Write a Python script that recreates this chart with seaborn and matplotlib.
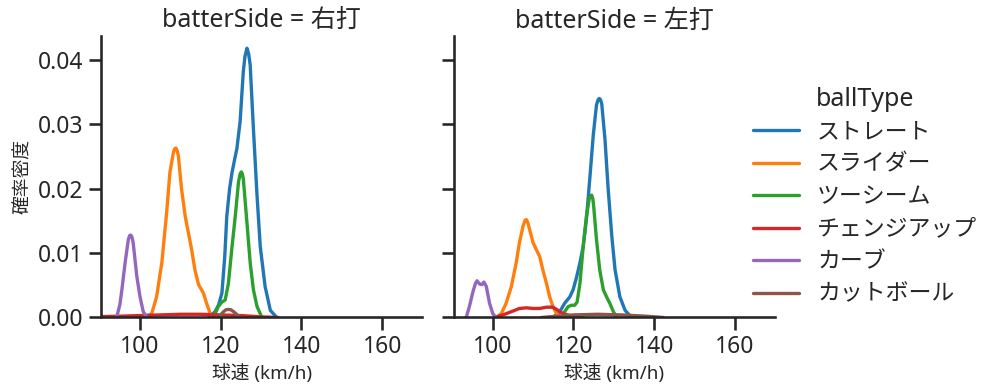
import pandas as pd
import numpy as np
import matplotlib.pyplot as plt
import seaborn as sns

# Curvas de densidade (球速 km/h, densidade)
ball_types = ['ストレート', 'スライダー', 'ツーシーム', 'チェンジアップ', 'カーブ', 'カットボール']
sides = ['右打', '左打']

# 右打
r_straight_x = [117.0, 118.6, 119.5, 120.3, 121.0, 121.5, 122.2, 122.8, 123.5, 124.0, 124.8, 125.6, 126.0, 126.5, 126.9, 127.3, 128.1, 129.0, 129.8, 131.0, 132.3, 133.9]
r_straight_y = [0.0, 0.0009, 0.0020, 0.0038, 0.0095, 0.0157, 0.0200, 0.0225, 0.0247, 0.0262, 0.0304, 0.0382, 0.0405, 0.0418, 0.0410, 0.0392, 0.0293, 0.0189, 0.0110, 0.0048, 0.0011, 0.0]
r_slider_x = [101.2, 102.9, 104.1, 105.4, 106.6, 107.4, 108.3, 108.6, 108.9, 109.2, 109.5, 110.3, 111.2, 112.0, 112.8, 113.6, 114.5, 115.7, 116.5, 117.4, 118.2]
r_slider_y = [0.0, 0.0006, 0.0032, 0.0085, 0.0163, 0.0225, 0.0257, 0.0262, 0.0263, 0.0259, 0.0251, 0.0199, 0.0157, 0.0131, 0.0105, 0.0074, 0.0051, 0.0038, 0.0022, 0.0006, 0.0]
r_twoseam_x = [118.2, 119.4, 120.3, 121.1, 121.9, 122.8, 123.6, 124.4, 124.8, 125.1, 125.35, 125.6, 126.5, 127.3, 128.1, 129.0, 130.2]
r_twoseam_y = [0.0, 0.0017, 0.0024, 0.0027, 0.0053, 0.0110, 0.0157, 0.0210, 0.0223, 0.0226, 0.0223, 0.0215, 0.0147, 0.0085, 0.0043, 0.0017, 0.0]
r_change_x = [88.0, 95.0, 100.0, 105.0, 110.0, 115.0, 120.0, 125.0, 130.0, 134.3]
r_change_y = [0.0001, 0.0002, 0.0003, 0.0004, 0.0005, 0.0005, 0.0004, 0.0003, 0.0001, 0.0]
r_curve_x = [94.2, 95.0, 95.5, 96.3, 97.1, 97.4, 97.7, 98.0, 98.3, 98.7, 99.2, 100.0, 100.8, 101.7]
r_curve_y = [0.0, 0.0020, 0.0043, 0.0085, 0.0121, 0.0127, 0.0128, 0.0125, 0.0116, 0.0093, 0.0064, 0.0032, 0.0009, 0.0]
r_cut_x = [119.4, 120.7, 121.3, 121.9, 122.5, 123.2, 124.8]
r_cut_y = [0.0, 0.0009, 0.0012, 0.00125, 0.0012, 0.0009, 0.0]

# 左打
l_straight_x = [114.9, 116.6, 117.8, 119.1, 119.9, 120.7, 121.6, 122.4, 123.2, 124.1, 124.9, 125.7, 126.1, 126.4, 126.7, 127.0, 127.8, 128.6, 129.5, 130.3, 131.5, 132.8, 134.4]
l_straight_y = [0.0, 0.0009, 0.0022, 0.0032, 0.0043, 0.0061, 0.0085, 0.0110, 0.0152, 0.0220, 0.0283, 0.0330, 0.0338, 0.0340, 0.0338, 0.0332, 0.0277, 0.0199, 0.0126, 0.0074, 0.0032, 0.0011, 0.0]
l_slider_x = [100.8, 102.1, 103.3, 104.6, 105.8, 106.6, 107.5, 108.0, 108.3, 108.7, 109.1, 110.0, 110.8, 111.6, 112.4, 113.3, 114.1, 114.9, 115.8, 117.0]
l_slider_y = [0.0, 0.0006, 0.0022, 0.0048, 0.0085, 0.0116, 0.0142, 0.0151, 0.0152, 0.0147, 0.0137, 0.0116, 0.0105, 0.0095, 0.0074, 0.0053, 0.0032, 0.0017, 0.0006, 0.0]
l_twoseam_x = [117.0, 117.8, 118.7, 119.5, 120.3, 120.9, 121.6, 122.4, 123.2, 123.9, 124.2, 124.5, 124.8, 125.0, 125.7, 126.5, 127.4, 128.2, 129.0, 129.9, 130.7]
l_twoseam_y = [0.0, 0.0009, 0.0017, 0.0019, 0.0019, 0.0024, 0.0053, 0.0110, 0.0157, 0.0184, 0.0189, 0.0190, 0.0184, 0.0173, 0.0121, 0.0074, 0.0043, 0.0032, 0.0022, 0.0009, 0.0]
l_change_x = [100.4, 102.5, 104.6, 106.6, 108.3, 110.0, 111.6, 113.3, 114.9, 116.2, 117.4, 119.1, 122.4]
l_change_y = [0.0, 0.0004, 0.0009, 0.0014, 0.0015, 0.0014, 0.0014, 0.0016, 0.0016, 0.0011, 0.0006, 0.0003, 0.0]
l_curve_x = [93.4, 94.2, 95.0, 95.7, 96.1, 96.7, 97.3, 97.8, 98.4, 99.2, 100.0, 100.8]
l_curve_y = [0.0, 0.0017, 0.0038, 0.0053, 0.0057, 0.0052, 0.0051, 0.0055, 0.0048, 0.0022, 0.0006, 0.0]
l_cut_x = [112.0, 116.0, 120.0, 126.0, 132.0, 138.0, 142.3]
l_cut_y = [0.0, 0.0002, 0.0004, 0.0005, 0.0004, 0.0002, 0.0]

curvas = {
    '右打': [(r_straight_x, r_straight_y), (r_slider_x, r_slider_y), (r_twoseam_x, r_twoseam_y),
             (r_change_x, r_change_y), (r_curve_x, r_curve_y), (r_cut_x, r_cut_y)],
    '左打': [(l_straight_x, l_straight_y), (l_slider_x, l_slider_y), (l_twoseam_x, l_twoseam_y),
             (l_change_x, l_change_y), (l_curve_x, l_curve_y), (l_cut_x, l_cut_y)],
}

linhas = []
for side in sides:
    for bt, (xs, ys) in zip(ball_types, curvas[side]):
        for x, y in zip(xs, ys):
            linhas.append({'batterSide': side, 'ballType': bt, 'speed': x, 'density': y})
df = pd.DataFrame(linhas)

sns.set_theme(style='ticks', context='talk')
plt.rcParams['font.family'] = ['Noto Sans', 'Noto Sans CJK JP']

g = sns.relplot(data=df, x='speed', y='density', hue='ballType', col='batterSide',
                kind='line', hue_order=ball_types, col_order=sides,
                palette='tab10', linewidth=2.4, height=3.5, aspect=1)
g.set_titles('batterSide = {col_name}')
g.set_axis_labels('球速 (km/h)', '確率密度', fontsize=13.5)
g.set(xlim=(90.3, 170), ylim=(0, 0.0437))
for ax in g.axes.flat:
    ax.set_xticks([100, 120, 140, 160])
    ax.set_yticks([0.0, 0.01, 0.02, 0.03, 0.04])
    ax.set_yticklabels(['0.00', '0.01', '0.02', '0.03', '0.04'])

g.figure.set_size_inches(9.99, 3.91)
g.figure.subplots_adjust(left=0.101, right=0.776, bottom=0.188, top=0.908, wspace=0.097)
sns.move_legend(g, 'center left', bbox_to_anchor=(0.733, 0.497), frameon=False, labelspacing=0.37)

plt.savefig('out.png', dpi=100)
